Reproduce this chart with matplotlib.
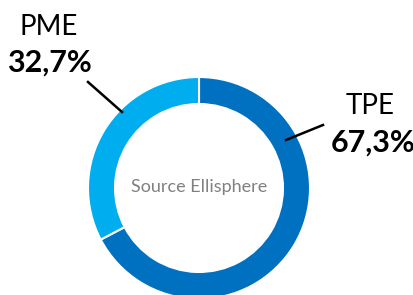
import matplotlib.pyplot as plt

labels = ['TPE', 'PME']
shares = [67.3, 32.7]
share_text = ['67,3%', '32,7%']
colors = ['#0070C0', '#00ADEE']

W, H = 414, 295

fig = plt.figure(figsize=(W / 100, H / 100), dpi=100)
ax = fig.add_axes([0, 0, 1, 1])

# donut, pixel-like data coords (y counted from bottom)
ax.pie(shares, colors=colors, startangle=90, counterclock=False,
       center=(199, H - 188), radius=111,
       wedgeprops=dict(width=27, edgecolor='white', linewidth=1.5))

ax.text(199, H - 187, 'Source Ellisphere', ha='center', va='center',
        fontsize=13, color='#808080', family='Lato')

# leader lines
ax.plot([88, 122], [H - 82, H - 112], color='black', lw=1.8)
ax.plot([323, 286], [H - 125, H - 140], color='black', lw=1.8)

# labels
ax.text(49, H - 27, labels[1], ha='center', va='center', fontsize=20, family='Lato')
ax.text(49, H - 63, share_text[1], ha='center', va='center', fontsize=22,
        fontweight='bold', family='Lato')
ax.text(370, H - 106, labels[0], ha='center', va='center', fontsize=20, family='Lato')
ax.text(373, H - 143, share_text[0], ha='center', va='center', fontsize=22,
        fontweight='bold', family='Lato')

ax.set_xlim(0, W)
ax.set_ylim(0, H)
ax.set_aspect('auto')
ax.axis('off')

fig.savefig('out.png', dpi=100, facecolor='white')
